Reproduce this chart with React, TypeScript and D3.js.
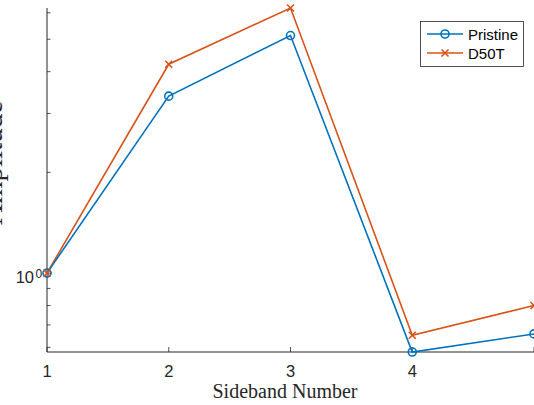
import { useEffect, useRef } from 'react';
import * as d3 from 'd3';

const sidebands = [1, 2, 3, 4, 5];
const pristine = [1.0, 3.38, 5.13, 0.581, 0.658];
const d50t = [1.0, 4.21, 6.2, 0.652, 0.80];
const xTicks = [1, 2, 3, 4, 5];
const xTickLabels = [1, 2, 3, 4];
const yMinorTicks = [0.6, 0.7, 0.8, 0.9, 2, 3, 4, 5, 6];
const seriesNames = ['Pristine', 'D50T'];

const BLUE = '#0072BD';
const ORANGE = '#D95319';
const AX = '#262626';

export default function App() {
  const ref = useRef<SVGSVGElement>(null);

  useEffect(() => {
    const width = 534, height = 405;
    const margin = { top: 8, right: 0, bottom: 53, left: 47 };
    const svg = d3.select(ref.current);
    svg.selectAll('*').remove();
    svg.attr('width', width).attr('height', height);

    const x = d3.scaleLinear().domain([1, 5]).range([margin.left, width - margin.right]);
    const y = d3.scaleLog().domain([0.581, 6.2]).range([height - margin.bottom, margin.top]);

    const g = svg.append('g');
    const x0 = margin.left, y0 = height - margin.bottom;

    // ticks (inward)
    g.selectAll('.xt').data(xTicks).join('line')
      .attr('x1', d => x(d)).attr('x2', d => x(d))
      .attr('y1', y0).attr('y2', y0 - 5)
      .attr('stroke', AX).attr('stroke-width', 0.8);
    g.selectAll('.ytm').data(yMinorTicks).join('line')
      .attr('x1', x0).attr('x2', x0 + 3.5)
      .attr('y1', d => y(d)).attr('y2', d => y(d))
      .attr('stroke', AX).attr('stroke-width', 0.8);
    g.append('line').attr('x1', x0).attr('x2', x0 + 5)
      .attr('y1', y(1)).attr('y2', y(1)).attr('stroke', AX).attr('stroke-width', 0.8);

    // axis lines
    g.append('line').attr('x1', x0).attr('x2', x0).attr('y1', margin.top).attr('y2', y0)
      .attr('stroke', AX).attr('stroke-width', 1);
    g.append('line').attr('x1', x0).attr('x2', width).attr('y1', y0).attr('y2', y0)
      .attr('stroke', AX).attr('stroke-width', 1);

    // tick labels
    g.selectAll('.xl').data(xTickLabels).join('text')
      .attr('x', d => x(d)).attr('y', 377)
      .attr('text-anchor', 'middle')
      .attr('font-family', 'Liberation Sans, Arial, sans-serif')
      .attr('font-size', 16.5).attr('fill', AX)
      .text(d => String(d));

    g.append('text').attr('x', 34).attr('y', y(1) + 10)
      .attr('text-anchor', 'end')
      .attr('font-family', 'Liberation Sans, Arial, sans-serif')
      .attr('font-size', 16.5).attr('fill', AX)
      .text('10');
    g.append('text').attr('x', 35.5).attr('y', y(1) + 4.5)
      .attr('font-family', 'Liberation Sans, Arial, sans-serif')
      .attr('font-size', 12).attr('fill', AX)
      .text('0');

    // axis labels
    g.append('text').attr('x', 285).attr('y', 398)
      .attr('text-anchor', 'middle')
      .attr('font-family', 'Liberation Serif, Times New Roman, serif')
      .attr('font-size', 20).attr('fill', AX)
      .text('Sideband Number');
    g.append('text')
      .attr('transform', `translate(2,163) rotate(-90)`)
      .attr('text-anchor', 'middle')
      .attr('font-family', 'Liberation Serif, Times New Roman, serif')
      .attr('font-size', 29).attr('fill', AX)
      .text('Amplitude');

    const line = d3.line<number>().x((_, i) => x(sidebands[i])).y(d => y(d));

    const plot = g.append('g');
    plot.append('path').attr('d', line(d50t)).attr('fill', 'none')
      .attr('stroke', ORANGE).attr('stroke-width', 1.6);
    plot.append('path').attr('d', line(pristine)).attr('fill', 'none')
      .attr('stroke', BLUE).attr('stroke-width', 1.6);

    const cross = (sel: any, cx: number, cy: number, s: number, color: string) => {
      sel.append('path')
        .attr('d', `M${cx - s},${cy - s}L${cx + s},${cy + s}M${cx - s},${cy + s}L${cx + s},${cy - s}`)
        .attr('stroke', color).attr('stroke-width', 1.6).attr('fill', 'none');
    };

    plot.selectAll('.pm').data(pristine).join('circle')
      .attr('cx', (_, i) => x(sidebands[i])).attr('cy', d => y(d)).attr('r', 4)
      .attr('fill', 'none').attr('stroke', BLUE).attr('stroke-width', 1.6);
    d50t.forEach((v, i) => cross(plot, x(sidebands[i]), y(v), 3.5, ORANGE));

    // legend
    const lg = g.append('g');
    lg.append('rect').attr('x', 420.5).attr('y', 21.5).attr('width', 103).attr('height', 45)
      .attr('fill', 'white').attr('stroke', AX).attr('stroke-width', 0.8);
    const colors = [BLUE, ORANGE];
    seriesNames.forEach((name, i) => {
      const ly = 34 + i * 19;
      lg.append('line').attr('x1', 427).attr('x2', 463).attr('y1', ly).attr('y2', ly)
        .attr('stroke', colors[i]).attr('stroke-width', 1.6);
      if (i === 0) {
        lg.append('circle').attr('cx', 445).attr('cy', ly).attr('r', 4)
          .attr('fill', 'none').attr('stroke', BLUE).attr('stroke-width', 1.6);
      } else {
        cross(lg, 445, ly, 3.5, ORANGE);
      }
      lg.append('text').attr('x', 468).attr('y', ly + 5.5)
        .attr('font-family', 'Liberation Sans, Arial, sans-serif')
        .attr('font-size', 15).attr('fill', '#000')
        .text(name);
    });
  }, []);

  return (
    <svg ref={ref} style={{ position: 'absolute', left: 0, top: 0 }}></svg>
  );
}
